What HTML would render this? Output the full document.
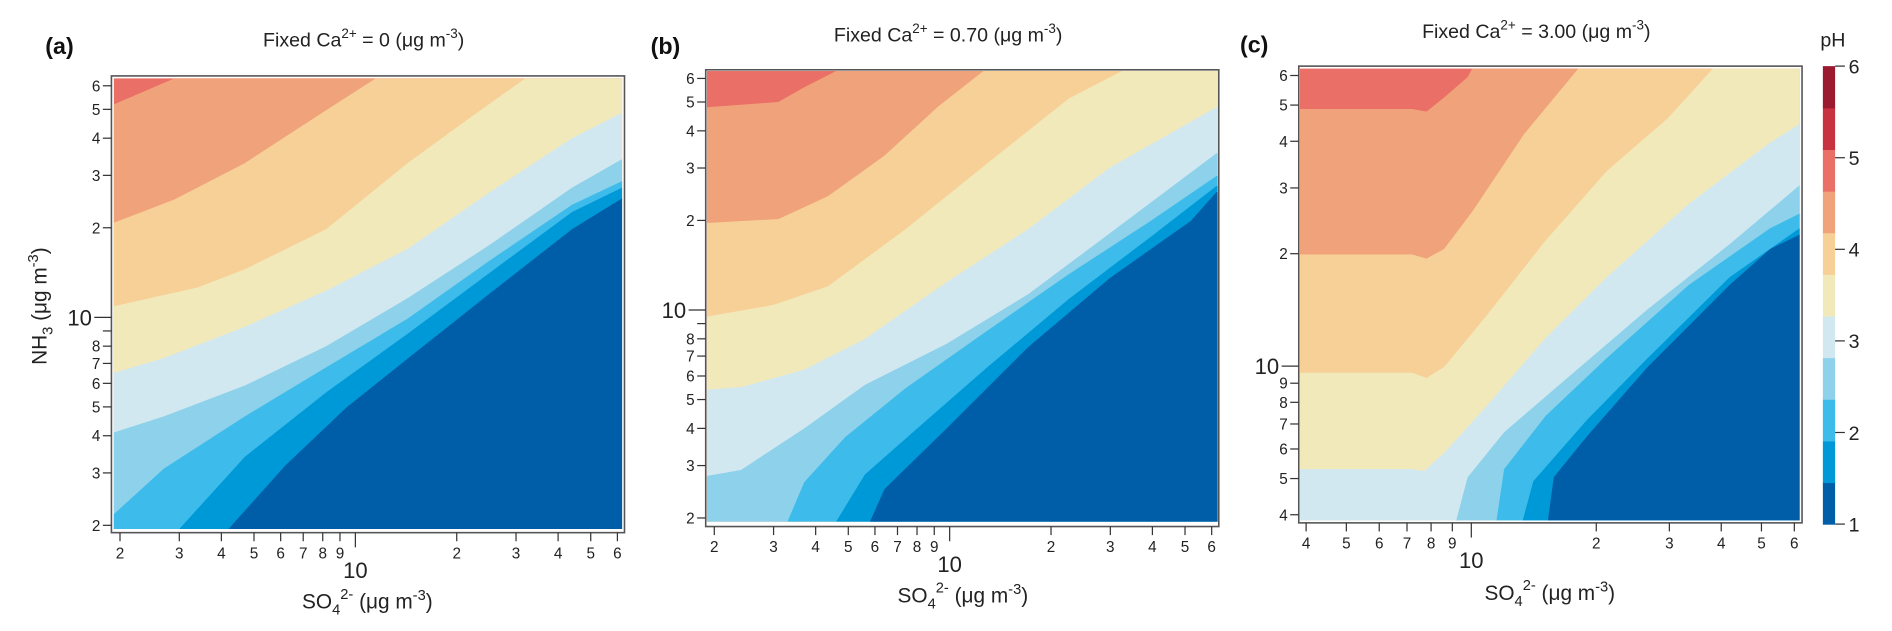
<!DOCTYPE html>
<html><head><meta charset="utf-8">
<style>
html,body{margin:0;padding:0;background:#fff;overflow:hidden;width:1892px;height:631px;}
svg{display:block;font-family:"Liberation Sans",Arial,sans-serif;}
</style></head>
<body>
<svg id="fig" width="1892" height="631" viewBox="0 0 1892 631" xmlns="http://www.w3.org/2000/svg">
  <rect x="0" y="0" width="1892" height="631" fill="#fff"/>
</svg>
<script>
// ---------- DATA ----------
const bandColors = ["#005da8","#0099d8","#3dbbea","#8dd1ea","#d2e8f0","#f2e9ba","#f7d098","#f0a37a","#ea6f66","#c83240","#9c1a30"];
const colorbarTicks = [1,2,3,4,5,6];

const boundsA = [
  [[4.2,1.9],[6.2,3.18],[9.4,4.97],[14.3,7.26],[25,12.0],[44,19.8],[62,25.1]],
  [[3.0,1.9],[4.7,3.4],[8.2,5.6],[14.3,8.8],[25,14.1],[44,22.6],[62,27.3]],
  [[1.9,2.18],[2.7,3.1],[4.7,4.65],[8.2,6.8],[14.3,9.9],[25,15.5],[44,23.9],[62,28.7]],
  [[1.9,4.1],[2.7,4.65],[4.7,5.9],[8.2,8.0],[14.3,11.6],[25,17.5],[44,27.3],[62,34]],
  [[1.9,6.5],[2.7,7.3],[4.7,9.3],[8.2,12.3],[14.3,17],[25,26.3],[44,40],[62,48.7]],
  [[1.9,10.9],[3.4,12.6],[4.7,14.5],[8.2,19.8],[14.3,33],[21.7,46.5],[32,64]],
  [[1.9,20.8],[2.9,24.9],[4.7,33],[8.2,49.7],[11.5,64]],
  [[1.9,52],[2.9,64]]
];
const boundsB = [
  [[5.8,1.9],[6.4,2.5],[9.8,4.0],[17.1,7.5],[29.9,12.8],[52,19.9],[62,24.9]],
  [[4.6,1.9],[5.6,2.8],[8.5,4.24],[12.9,6.4],[22.6,10.9],[39.5,17.6],[62,26.1]],
  [[3.3,1.9],[3.7,2.64],[4.9,3.74],[7.4,5.46],[12.9,8.5],[22.6,13.2],[39.5,19.9],[62,28.2]],
  [[1.9,2.77],[2.4,2.9],[3.7,4.0],[5.6,5.6],[9.8,7.7],[17.1,11.3],[29.9,18.1],[62,33.6]],
  [[1.9,5.4],[2.4,5.5],[3.7,6.3],[5.6,8.0],[9.8,12.4],[17.1,18.7],[29.9,30.1],[62,48]],
  [[1.9,9.5],[3.0,10.4],[4.35,12.0],[7.4,18.7],[12.9,31],[22.6,51.4],[32.5,64]],
  [[1.9,19.6],[3.1,20.2],[4.35,24.1],[6.4,33],[9.25,48.3],[12.6,64]],
  [[1.9,48],[3.1,50],[3.7,56],[4.6,64]]
];
const boundsC = [
  [[15.3,3.8],[15.8,5.04],[19,6.49],[26.6,9.95],[41.9,16.5],[52.5,20.6],[62,22.5]],
  [[13.3,3.8],[14.1,4.92],[19,7.18],[26.6,10.5],[41.9,17.3],[62,23.4]],
  [[11.5,3.8],[12,5.3],[15.1,7.36],[21.2,10.5],[33.4,16.5],[52.5,23.4],[62,25.6]],
  [[9.2,3.8],[9.8,5.04],[12.0,6.65],[16.9,9.23],[26.6,14.2],[41.9,21.2],[62,30.5]],
  [[3.86,5.3],[7.2,5.3],[7.7,5.24],[8.6,5.86],[10.8,7.74],[15.1,11.9],[21.2,17.3],[33.4,27.2],[52.5,39.7],[62,44.5]],
  [[3.86,9.6],[7.2,9.6],[7.8,9.3],[8.6,9.95],[10.8,13.5],[15.1,21.7],[21.2,33.3],[29.8,46.2],[38.2,64]],
  [[3.86,19.9],[7.2,19.9],[7.8,19.4],[8.6,20.6],[10.05,25.9],[13.4,41.8],[18.1,64]],
  [[3.86,48.8],[7.2,48.8],[7.8,48],[8.6,52.4],[9.8,59.4],[10.05,64]]
];

const xTicksAB = [2,3,4,5,6,7,8,9,10,20,30,40,50,60];
const xLabelsAB = ["2","3","4","5","6","7","8","9","10","2","3","4","5","6"];
const yTicksAB = [2,3,4,5,6,7,8,9,10,20,30,40,50,60];
const yLabelsAB = ["2","3","4","5","6","7","8","","10","2","3","4","5","6"];
const xTicksC = [4,5,6,7,8,9,10,20,30,40,50,60];
const xLabelsC = ["4","5","6","7","8","9","10","2","3","4","5","6"];
const yTicksC = [4,5,6,7,8,9,10,20,30,40,50,60];
const yLabelsC = ["4","5","6","7","8","9","10","2","3","4","5","6"];
const caValues = ["0","0.70","3.00"];

// ---------- LAYOUT ----------
const NS = "http://www.w3.org/2000/svg";
const svg = document.getElementById("fig");
const SC = 1.2245;
function mk(tag, attrs, parent){
  const e = document.createElementNS(NS, tag);
  for (const k in attrs) e.setAttribute(k, attrs[k]);
  (parent||svg).appendChild(e);
  return e;
}
function tf(off){ return "translate(" + off + ",0) scale(" + SC + ") translate(" + (-off) + ",0)"; }
const panels = [
  {id:"a", off:0, bounds:boundsA, xt:xTicksAB, xl:xLabelsAB, yt:yTicksAB, yl:yLabelsAB,
   x0v:2, x0p:98, xdec:275, y0v:2, y0p:429, ydec:243,
   frame:[91,62,510,435], data:[93,64,508,432], ymin:1.95,
   title:[297,38], tag:[37,44], xtitle:[300,497], ytitle:true, ca:caValues[0]},
  {id:"b", off:620, bounds:boundsB, xt:xTicksAB, xl:xLabelsAB, yt:yTicksAB, yl:yLabelsAB,
   x0v:2, x0p:697, xdec:275, y0v:2, y0p:423, ydec:243,
   frame:[690,57,1109,430], data:[691,58,1108,426], ymin:1.95,
   title:[888,34], tag:[645,44], xtitle:[900,492], ytitle:false, ca:caValues[1]},
  {id:"c", off:1240, bounds:boundsC, xt:xTicksC, xl:xLabelsC, yt:yTicksC, yl:yLabelsC,
   x0v:4, x0p:1294, xdec:339, y0v:10, y0p:299, ydec:305,
   frame:[1288,54,1699,427], data:[1289,56,1697,425], ymin:3.87,
   title:[1482,31], tag:[1240,43], xtitle:[1493,490], ytitle:false, ca:caValues[2]}
];

panels.forEach(P => {
  const [dx0,dy0,dx1,dy1] = P.data;
  const cl = (v,a,b) => Math.max(a, Math.min(b, v));
  const sx = v => cl(P.x0p + P.xdec*Math.log10(v/P.x0v), dx0, dx1);
  const sy = v => cl(P.y0p - P.ydec*Math.log10(v/P.y0v), dy0, dy1);
  const sxr = v => P.x0p + P.xdec*Math.log10(v/P.x0v);
  const syr = v => P.y0p - P.ydec*Math.log10(v/P.y0v);
  const g = mk("g", {transform: tf(P.off)});
  
  
  const plot = mk("g", {}, g);
  
  
  const top = mk("rect", {x:dx0, y:dy0, width:dx1-dx0, height:dy1-dy0, fill:bandColors[P.bounds.length]}, plot);
  
  
  for (let k = P.bounds.length; k >= 1; k--) {
    const b = P.bounds[k-1];
    const pts = [];
    const f = b[0], l = b[b.length-1];
    if (f[1] < P.ymin) { pts.push([sx(f[0]), dy1]); }
    else { pts.push([dx0, dy1]); pts.push([dx0, sy(f[1])]); }
    b.forEach(p => pts.push([sx(p[0]), sy(p[1])]));
    if (l[1] >= 62) pts.push([dx1, dy0]); else pts.push([dx1, sy(l[1])]);
    pts.push([dx1, dy1]);
    const poly = mk("polygon", {points: pts.map(p => p[0].toFixed(1)+","+p[1].toFixed(1)).join(" "), fill:bandColors[k-1]}, plot);
    
    
  }
  const [fx0,fy0,fx1,fy1] = P.frame;
  const fr = mk("rect", {x:fx0, y:fy0, width:fx1-fx0, height:fy1-fy0, fill:"none", stroke:"#555", "stroke-width":1.3}, g);
  
  
  const xa = mk("g", {}, g);
  
  
  P.xt.forEach((v,i) => {
    const x = sxr(v); const big = v === 10;
    mk("line", {x1:x, x2:x, y1:fy1, y2:fy1+(big?12:7), stroke:"#333", "stroke-width":1}, xa);
    const t = mk("text", {x:x, y: big ? fy1+37 : fy1+21, "text-anchor":"middle", "font-size": big?18:12.5, fill:"#222"}, xa);
    t.textContent = P.xl[i];
    
    
  });
  const ya = mk("g", {}, g);
  
  
  P.yt.forEach((v,i) => {
    const y = syr(v); const big = v === 10;
    mk("line", {x1:fx0-(big?14:7), x2:fx0, y1:y, y2:y, stroke:"#333", "stroke-width":1}, ya);
    if (P.yl[i]) {
      const t = mk("text", {x: big ? fx0-16 : fx0-9, y: y + (big?6.5:4.5), "text-anchor":"end", "font-size": big?18:12.5, fill:"#222"}, ya);
      t.textContent = P.yl[i];
      
      
    }
  });
  const tt = mk("text", {x:P.title[0], y:P.title[1], "text-anchor":"middle", "font-size":16, fill:"#222"}, g);
  
  
  tt.innerHTML = 'Fixed Ca<tspan dy="-7" font-size="11">2+</tspan><tspan dy="7"> = ' + P.ca + ' (μg m</tspan><tspan dy="-7" font-size="11">-3</tspan><tspan dy="7">)</tspan>';
  const tg = mk("text", {x:P.tag[0], y:P.tag[1], "font-size":19, "font-weight":"bold", fill:"#111"}, g);
  tg.textContent = "(" + P.id + ")";
  
  
  const xt = mk("text", {x:P.xtitle[0], y:P.xtitle[1], "text-anchor":"middle", "font-size":17, fill:"#222"}, g);
  
  
  xt.innerHTML = 'SO<tspan dy="5" font-size="12">4</tspan><tspan dy="-13" font-size="12">2-</tspan><tspan dy="8"> (μg m</tspan><tspan dy="-7" font-size="12">-3</tspan><tspan dy="7">)</tspan>';
  if (P.ytitle) {
    const yt = mk("text", {x:0, y:0, "text-anchor":"middle", "font-size":17, fill:"#222", transform:"translate(38,250) rotate(-90)"}, g);
    
    
    yt.innerHTML = 'NH<tspan dy="5" font-size="12">3</tspan><tspan dy="-5"> (μg m</tspan><tspan dy="-7" font-size="12">-3</tspan><tspan dy="7">)</tspan>';
  }
});

// colorbar
const cb = mk("g", {transform: tf(1240)});


const cbX = 1716, cbW = 10, cbTop = 54, cbBot = 428;
const nb = bandColors.length, bh = (cbBot - cbTop) / nb;
bandColors.forEach((c,i) => {
  const r = mk("rect", {x:cbX, y:cbBot - (i+1)*bh, width:cbW, height:bh+0.5, fill:c}, cb);
  
  
});
const cy = v => cbBot - (v-1)/5*(cbBot-cbTop);
colorbarTicks.forEach(v => {
  mk("line", {x1:cbX+cbW, x2:cbX+cbW+8, y1:cy(v), y2:cy(v), stroke:"#333", "stroke-width":1}, cb);
  const t = mk("text", {x:cbX+cbW+11, y:cy(v)+6, "font-size":16, fill:"#222"}, cb);
  t.textContent = v;
  
  
});
const ph = mk("text", {x:1714, y:38, "font-size":16, fill:"#222"}, cb);
ph.textContent = "pH";


</script>
</body></html>
